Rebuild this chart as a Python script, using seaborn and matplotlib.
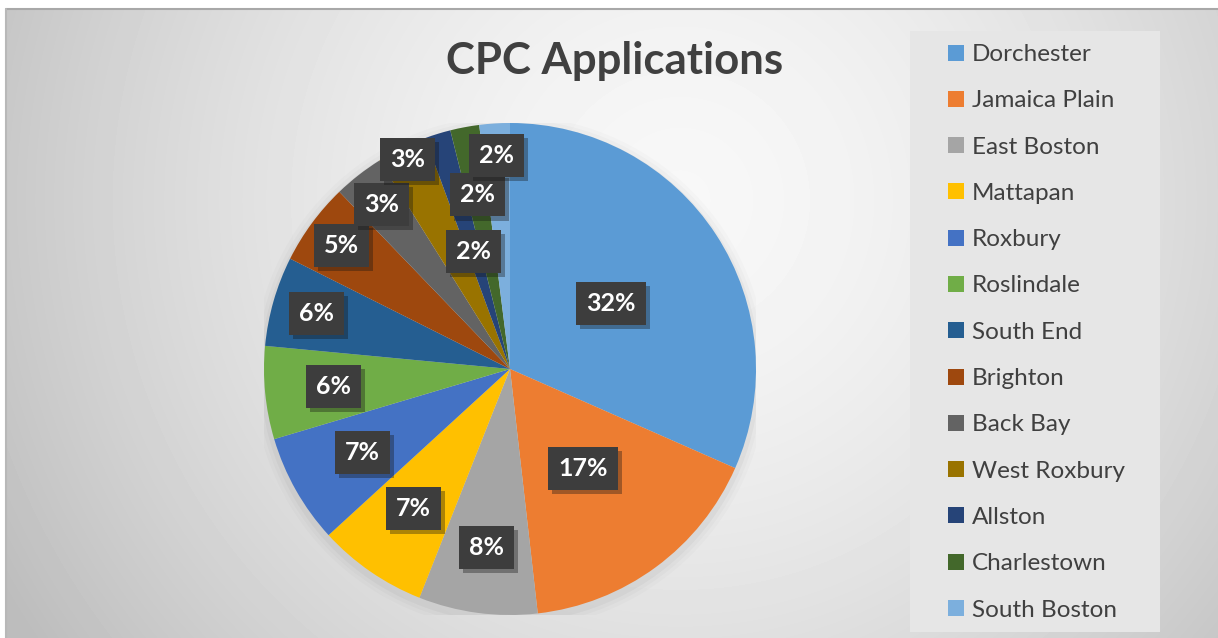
#!/usr/bin/env python3
"""CPC Applications by neighborhood, pie chart in an Office-like style."""

import numpy as np
import matplotlib
matplotlib.use('Agg')
import matplotlib.pyplot as plt
import matplotlib.patheffects as pe
from matplotlib.lines import Line2D
from matplotlib.patches import Rectangle, Circle
import seaborn as sns

# data (shares, clockwise from 12 o'clock)
neighborhoods = ["Dorchester", "Jamaica Plain", "East Boston", "Mattapan", "Roxbury",
                 "Roslindale", "South End", "Brighton", "Back Bay", "West Roxbury",
                 "Allston", "Charlestown", "South Boston"]
shares = [31.6, 16.6, 7.8, 7.2, 7.2, 6.1, 5.9, 5.4, 3.3, 3.3, 1.7, 1.9, 2.0]
colors = ["#5B9BD5", "#ED7D31", "#A5A5A5", "#FFC000", "#4472C4", "#70AD47", "#255E91",
          "#9E480E", "#636363", "#997300", "#264478", "#43682B", "#7CAFDD"]
# radial position of each percentage label (fraction of radius)
label_dist = [0.49, 0.50, 0.73, 0.69, 0.69, 0.72, 0.82, 0.85, 0.85, 0.95, 0.50, 0.72, 0.87]

W, H = 1218, 638
TEXT = "#404040"

sns.set_theme(style="white")
plt.rcParams['font.family'] = ['Lato', 'DejaVu Sans']

fig = plt.figure(figsize=(W / 100, H / 100), dpi=100)
fig.patch.set_facecolor("white")

# soft radial gray background
bg = fig.add_axes([6 / W, 0, (W - 6) / W, (H - 9) / H])
yy, xx = np.mgrid[9:H, 6:W]
d = np.hypot(xx - 680, yy - 200)
shade = np.clip(0.97 - 0.22 * (d / 760) ** 1.6, 0.74, 1.0)
bg.imshow(shade, cmap="gray", vmin=0, vmax=1, aspect="auto", interpolation="bilinear")
bg.axis("off")
fig.add_artist(Line2D([6 / W, 1], [(H - 9) / H] * 2, color="#a8a8a8", lw=1.5))
fig.add_artist(Line2D([6 / W] * 2, [0, (H - 9) / H], color="#b8b8b8", lw=1.5))

# legend panel
fig.add_artist(Rectangle((910 / W, (H - 632) / H), 250 / W, 601 / H,
                         transform=fig.transFigure, facecolor="#e6e6e6", edgecolor="none"))

# pie
R = 246
cx, cy = 510, 369
ax = fig.add_axes([(cx - R) / W, (H - cy - R) / H, 2 * R / W, 2 * R / H])
ax.set_facecolor("none")
for r, a in [(1.045, 0.015), (1.03, 0.02), (1.015, 0.03)]:
    ax.add_patch(Circle((0.0, -0.015), r, facecolor="black", alpha=a, edgecolor="none", zorder=0))

wedges, texts, autotexts = ax.pie(
    shares, colors=colors, startangle=90, counterclock=False,
    autopct="%.0f%%", pctdistance=0.6, wedgeprops=dict(linewidth=0),
    textprops=dict(color="white", fontsize=18, fontweight="bold"))
ax.set_xlim(-1, 1)
ax.set_ylim(-1, 1)
ax.axis("off")

for w, t, r in zip(wedges, autotexts, label_dist):
    mid = np.deg2rad((w.theta1 + w.theta2) / 2)
    t.set_position((r * np.cos(mid), r * np.sin(mid)))
    t.set_ha("center")
    t.set_va("center")
    t.set_bbox(dict(boxstyle="square,pad=0.4", facecolor="#3d3d3d", edgecolor="none"))
    t.get_bbox_patch().set_path_effects([pe.SimplePatchShadow(offset=(3, -3), alpha=0.35),
                                         pe.Normal()])

# title
fig.text(615 / W, (H - 61) / H, "CPC Applications", ha="center", va="center",
         fontsize=31.5, fontweight="bold", color=TEXT)

# legend
handles = [Line2D([], [], marker="s", ls="", markersize=11, markerfacecolor=c,
                  markeredgewidth=0) for c in colors]
fig.legend(handles, neighborhoods, loc="upper left", bbox_to_anchor=(946 / W, (H - 44) / H),
           frameon=False, fontsize=17.5, labelcolor=TEXT, handletextpad=0.25,
           handlelength=0.8, labelspacing=1.04, borderpad=0, borderaxespad=0)

fig.savefig("out.png", dpi=100)
plt.close(fig)
